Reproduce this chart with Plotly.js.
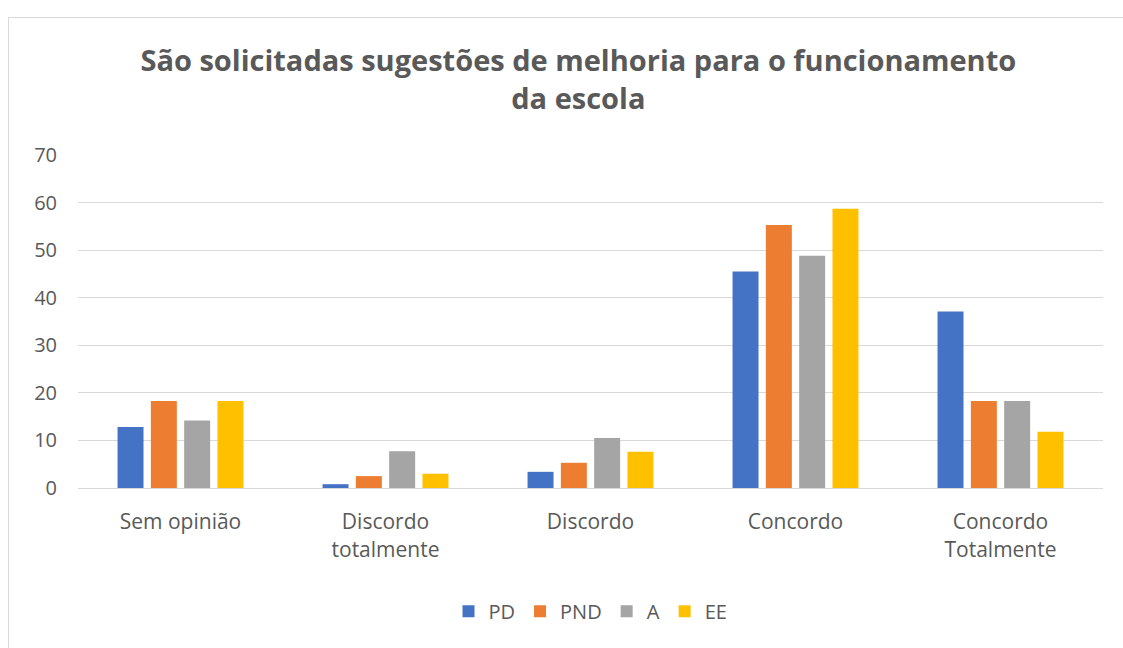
<!DOCTYPE html>
<html><head><meta charset="utf-8">
<script src="https://cdn.plot.ly/plotly-3.0.1.min.js"></script>
<style>html,body{margin:0;padding:0;background:#fff}
#frame{position:absolute;left:8px;top:17px;width:1130px;height:640px;border:1px solid #d9d9d9;box-sizing:border-box}
#chart{position:absolute;left:0;top:0;width:1123px;height:648px}</style>
</head><body>
<div id="frame"></div>
<div id="chart"></div>
<script>
const categories = ["Sem opinião", "Discordo<br>totalmente", "Discordo", "Concordo", "Concordo<br>Totalmente"];
const seriesNames = ["PD", "PND", "A", "EE"];
const PD  = [12.8, 0.8, 3.4, 45.5, 37.1];
const PND = [18.3, 2.5, 5.3, 55.3, 18.3];
const A   = [14.2, 7.7, 10.5, 48.8, 18.3];
const EE  = [18.3, 3.0, 7.6, 58.7, 11.8];
const yTicks = [0, 10, 20, 30, 40, 50, 60, 70];
const colors = ["#4472C4", "#ED7D31", "#A5A5A5", "#FFC000"];

const values = [PD, PND, A, EE];
const traces = seriesNames.map((n, i) => ({
  type: "bar", name: n, x: categories, y: values[i],
  marker: {color: colors[i]}
}));

const layout = {
  width: 1123, height: 648,
  paper_bgcolor: "rgba(0,0,0,0)", plot_bgcolor: "rgba(0,0,0,0)",
  margin: {l: 78, r: 20, t: 155, b: 160},
  font: {family: "Open Sans, sans-serif", color: "#595959", size: 20},
  title: {text: "<b>São solicitadas sugestões de melhoria para o funcionamento<br>da escola</b>",
          x: 0.515, xanchor: "center", y: 0.89, yanchor: "middle",
          font: {family: "Open Sans, sans-serif", size: 29, color: "#595959"}},
  bargap: 0.35, bargroupgap: 0.22, barmode: "group",
  xaxis: {tickfont: {size: 21, color: "#595959"}, showline: true, linecolor: "#d9d9d9", linewidth: 1,
          ticks: "", ticklabelstandoff: 15, fixedrange: true},
  yaxis: {range: [0, 70], tickvals: yTicks, ticktext: yTicks.map(String),
          gridcolor: "#d9d9d9", gridwidth: 1, zeroline: false, ticks: "", ticklen: 0,
          ticklabelstandoff: 20,
          tickfont: {size: 20, color: "#595959"}, fixedrange: true},
  legend: {orientation: "h", x: 0.5, xanchor: "center", y: -0.37, yanchor: "middle",
           font: {size: 20, color: "#595959"}, itemwidth: 30, traceorder: "normal"},
  showlegend: true
};
Plotly.newPlot("chart", traces, layout, {displayModeBar: false, staticPlot: true});
</script>
</body></html>
